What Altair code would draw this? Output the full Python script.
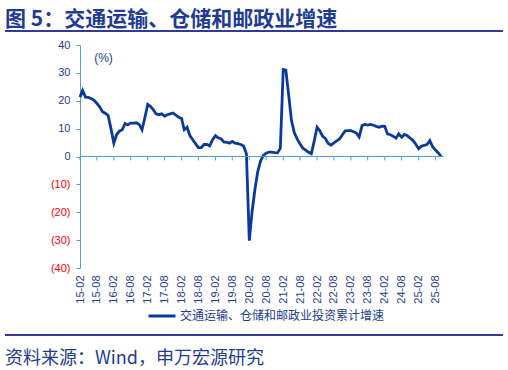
import altair as alt
import pandas as pd

# Cumulative YoY growth (%) of FAI in transport, storage & postal, monthly from 2015-02
v2015 = [21.3, 23.7, 21.3, 21.2, 20.8, 20.2, 19.1, 17.8, 16.1, 15.5, 14.8]
v2016 = [10.0, 4.8, 7.8, 9.1, 9.6, 11.8, 11.4, 12.0, 12.0, 12.1, 11.5, 9.6]
v2017 = [14.0, 18.7, 18.0, 16.8, 15.3, 15.0, 15.3, 14.5, 15.0, 15.3, 15.6, 14.8]
v2018 = [14.1, 13.6, 9.6, 10.5, 7.5, 6.0, 4.6, 3.2, 3.2, 4.3, 4.3, 3.8]
v2019 = [6.0, 7.5, 6.7, 6.4, 5.2, 5.1, 4.8, 5.4, 4.8, 4.6, 4.3, 3.8]
v2020 = [1.0, -30.2, -20.0, -12.0, -5.6, -1.7, 0.4, 1.2, 1.6, 1.6, 1.4, 1.3]
v2021 = [3.0, 31.2, 31.0, 22.0, 12.9, 8.5, 6.3, 4.5, 3.0, 2.3, 1.5, 1.0]
v2022 = [5.5, 10.5, 9.3, 7.3, 6.5, 4.7, 4.1, 4.9, 5.6, 6.3, 7.8, 9.2]
v2023 = [9.3, 9.3, 8.9, 8.4, 7.0, 11.1, 11.5, 11.3, 11.5, 11.2, 10.8, 10.5]
v2024 = [10.9, 10.8, 8.1, 7.8, 7.3, 6.6, 8.1, 6.9, 7.9, 7.5, 6.6, 5.8]
v2025 = [4.4, 2.8, 3.7, 4.0, 4.3, 5.7, 3.5, 2.3, 1.3, 0.0]

tick_labels = ["15-02", "15-08", "16-02", "16-08", "17-02", "17-08", "18-02", "18-08",
               "19-02", "19-08", "20-02", "20-08", "21-02", "21-08", "22-02", "22-08",
               "23-02", "23-08", "24-02", "24-08", "25-02", "25-08"]
y_ticks = [-40, -30, -20, -10, 0, 10, 20, 30, 40]

series_name = "交通运输、仓储和邮政业投资累计增速"
title_text = "图 5：交通运输、仓储和邮政业增速"
source_text = "资料来源：Wind，申万宏源研究"

values = v2015 + v2016 + v2017 + v2018 + v2019 + v2020 + v2021 + v2022 + v2023 + v2024 + v2025
dates = pd.date_range("2015-02-01", periods=len(values), freq="MS").strftime("%Y-%m-%d").tolist()
df = pd.DataFrame({"date": dates, "value": values, "series": series_name})

tick_dates = ["20" + t[:2] + "-" + t[3:] + "-01" for t in tick_labels]
tick_vals = [alt.DateTime(year=int("20" + t[:2]), month=int(t[3:]), date=1, utc=True) for t in tick_labels]
ticks_df = pd.DataFrame({"date": tick_dates, "value": [0.0] * len(tick_dates), "v1": [-1.4] * len(tick_dates)})

BLUE = "#1F3C93"
LINE = "#0A3A99"
AXIS = "#5B9BD5"
CJK = "Noto Sans CJK SC"
LAT = "Liberation Sans"

xscale = alt.Scale(type="utc", domain=[alt.DateTime(year=2015, month=2, date=1, utc=True),
                                       alt.DateTime(year=2025, month=11, date=1, utc=True)])
yscale = alt.Scale(domain=[-40, 40], nice=False, zero=False)

x_axis = alt.Axis(values=tick_vals, format="%y-%m", labelAngle=270, labelPadding=7,
                  labelFontSize=11, labelFont=LAT, labelColor=BLUE, domain=False,
                  ticks=False, grid=False, title=None, labelOverlap=False, labelFlush=False)
y_axis = alt.Axis(values=y_ticks, grid=False, labelOverlap=False,
                  domainColor=AXIS, tickColor=AXIS, tickSize=4, labelPadding=6,
                  labelFontSize=11, labelFont=LAT,
                  labelExpr="datum.value < 0 ? '(' + abs(datum.value) + ')' : '' + datum.value",
                  labelColor={"condition": {"test": "datum.value < 0", "value": "#FF0000"},
                              "value": BLUE},
                  title="(%)", titleAngle=0, titleX=23, titleY=12, titleAlign="center",
                  titleBaseline="middle", titleFont=LAT, titleFontSize=12,
                  titleFontWeight="normal", titleColor=BLUE)

X = alt.X("date:T", scale=xscale, axis=x_axis)
Y = alt.Y("value:Q", scale=yscale, axis=y_axis)

line = alt.Chart(df).mark_line(strokeWidth=2.8).encode(
    x=X, y=Y,
    color=alt.Color("series:N", scale=alt.Scale(range=[LINE]),
                    legend=alt.Legend(orient="none", legendX=67, legendY=256, title=None,
                                      symbolType="stroke", symbolStrokeWidth=3, symbolSize=729,
                                      labelFont=CJK, labelFontSize=12, labelColor=BLUE,
                                      labelOffset=3, padding=0, labelLimit=0)),
)

zero = alt.Chart(pd.DataFrame({"value": [0]})).mark_rule(color=AXIS, strokeWidth=1).encode(y=Y)
zticks = alt.Chart(ticks_df).mark_rule(color=AXIS, strokeWidth=1).encode(x=X, y=Y, y2="v1:Q")

title = alt.Chart(pd.DataFrame({"t": [title_text]})).mark_text(
    align="left", baseline="alphabetic", font=CJK, fontSize=21, fontWeight="bold", color=BLUE
).encode(x=alt.value(-75), y=alt.value(-19), text="t:N")
title_rule = alt.Chart(pd.DataFrame({"a": [0]})).mark_rule(color="#33399A", strokeWidth=2).encode(
    x=alt.value(-75), x2=alt.value(423), y=alt.value(-14))
bottom_rule = alt.Chart(pd.DataFrame({"a": [0]})).mark_rule(color="#33399A", strokeWidth=2).encode(
    x=alt.value(-75), x2=alt.value(423), y=alt.value(290))
source = alt.Chart(pd.DataFrame({"t": [source_text]})).mark_text(
    align="left", baseline="alphabetic", font=CJK, fontSize=18, color=BLUE
).encode(x=alt.value(-75), y=alt.value(319), text="t:N")

chart = alt.layer(line, zero, zticks, title, title_rule, bottom_rule, source).properties(
    width=364, height=223,
    autosize=alt.AutoSizeParams(type="none"),
    padding={"left": 80, "top": 45, "right": 64, "bottom": 102},
).configure(background="white").configure_view(stroke=None)

chart.save("out.html", embed_options={"renderer": "svg", "actions": False})
